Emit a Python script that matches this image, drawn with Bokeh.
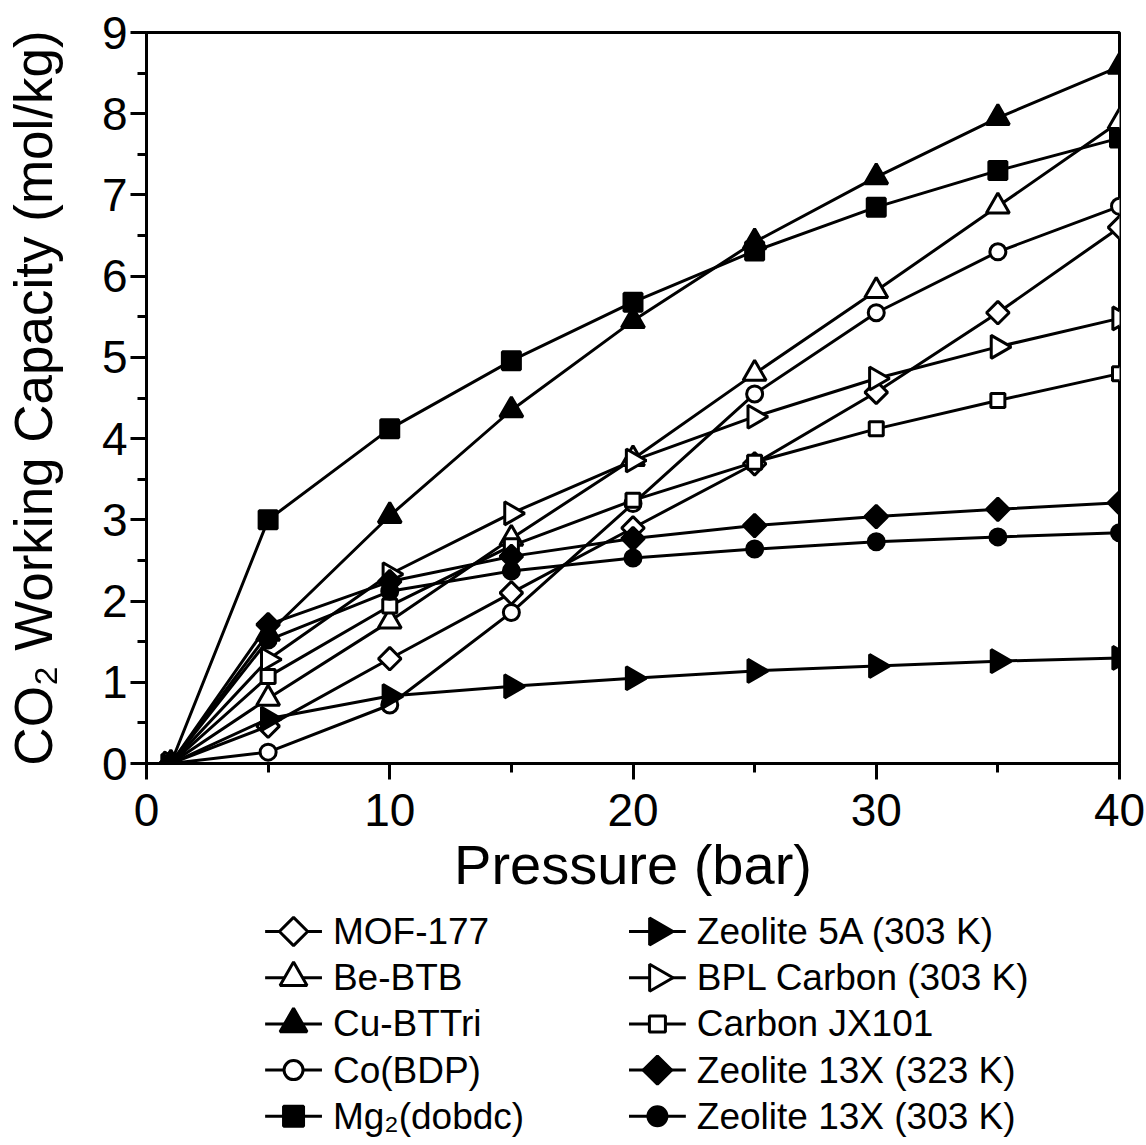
import math
from bokeh.plotting import figure
from bokeh.layouts import column
from bokeh.models import SingleIntervalTicker, Range1d
from bokeh.core.properties import value
from bokeh.embed import file_html
from bokeh.resources import INLINE

# ---- data ----
pressure = [1, 5, 10, 15, 20, 25, 30, 35, 40]

mof_177 = [0, 0.46, 1.29, 2.10, 2.90, 3.69, 4.57, 5.55, 6.60]
be_btb = [0, 0.80, 1.75, 2.77, 3.75, 4.80, 5.82, 6.86, 7.90]
cu_bttri = [0, 1.60, 3.05, 4.35, 5.45, 6.42, 7.22, 7.95, 8.58]
co_bdp = [0, 0.14, 0.72, 1.86, 3.20, 4.55, 5.55, 6.30, 6.86]
mg2_dobdc = [0, 3.00, 4.12, 4.96, 5.68, 6.31, 6.85, 7.30, 7.70]
zeolite_5a = [0, 0.55, 0.83, 0.95, 1.05, 1.14, 1.20, 1.26, 1.30]
bpl_carbon = [0, 1.28, 2.33, 3.08, 3.73, 4.27, 4.74, 5.13, 5.48]
carbon_jx101 = [0, 1.07, 1.94, 2.68, 3.24, 3.71, 4.12, 4.47, 4.80]
zeolite_13x_323 = [0, 1.71, 2.24, 2.55, 2.77, 2.93, 3.04, 3.13, 3.21]
zeolite_13x_303 = [0, 1.52, 2.12, 2.37, 2.53, 2.64, 2.73, 2.79, 2.84]

labels = ["MOF-177", "Be-BTB", "Cu-BTTri", "Co(BDP)", "Mg\u2082(dobdc)",
          "Zeolite 5A (303 K)", "BPL Carbon (303 K)", "Carbon JX101",
          "Zeolite 13X (323 K)", "Zeolite 13X (303 K)"]

x_label = "Pressure (bar)"
y_label = "CO\u2082 Working Capacity (mol/kg)"

# ---- marker styles: (marker, filled, plot size, legend size, angle) ----
styles = [
    ("square", False, 16, 20, math.pi / 4),
    ("triangle", False, 23, 27, 0),
    ("triangle", True, 23, 27, 0),
    ("circle", False, 16, 19, 0),
    ("square", True, 18, 20, 0),
    ("triangle", True, 23, 27, -math.pi / 2),
    ("triangle", False, 23, 27, -math.pi / 2),
    ("square", False, 14, 16, 0),
    ("square", True, 16, 20, math.pi / 4),
    ("circle", True, 16, 19, 0),
]
data = [mof_177, be_btb, cu_bttri, co_bdp, mg2_dobdc, zeolite_5a,
        bpl_carbon, carbon_jx101, zeolite_13x_323, zeolite_13x_303]

FONT = "Liberation Sans"
W = 1146
H_MAIN = 912
H_LEG = 232
FL, FR = 143, 1119   # frame left / right in page pixels

p = figure(width=W, height=H_MAIN, output_backend="svg", toolbar_location=None,
           x_range=Range1d(0, 40), y_range=Range1d(0, 9),
           min_border_left=FL, min_border_right=W - FR,
           min_border_top=32, min_border_bottom=H_MAIN - 763)

p.grid.visible = False
p.outline_line_color = "black"
p.outline_line_width = 3
p.background_fill_color = "white"
p.border_fill_color = "white"

for ax in (p.xaxis[0], p.yaxis[0]):
    ax.axis_line_width = 3
    ax.major_tick_line_width = 3
    ax.minor_tick_line_width = 3
    ax.major_tick_in = 0
    ax.minor_tick_in = 0
    ax.major_tick_out = 16
    ax.minor_tick_out = 9
    ax.major_label_text_font = FONT
    ax.major_label_text_font_size = "46px"
    ax.major_label_text_color = "black"
    ax.axis_label_text_font = FONT
    ax.axis_label_text_font_style = "normal"
    ax.axis_label_text_color = "black"

p.xaxis.ticker = SingleIntervalTicker(interval=10, num_minor_ticks=2)
p.yaxis.ticker = SingleIntervalTicker(interval=1, num_minor_ticks=2)
p.xaxis.axis_label = x_label
p.yaxis.axis_label = y_label
p.xaxis.axis_label_text_font_size = "56px"
p.yaxis.axis_label_text_font_size = "53px"
p.xaxis.major_label_standoff = 14
p.yaxis.major_label_standoff = 3
p.xaxis.axis_label_standoff = 4
p.yaxis.axis_label_standoff = 36

for ys in data:
    p.line(pressure, ys, line_color="black", line_width=3)
for ys, (mk, filled, sz, lsz, ang) in zip(data, styles):
    p.scatter(pressure, ys, marker=mk, size=sz, angle=ang,
              line_color="black", line_width=3,
              fill_color="black" if filled else "white")

# ---- legend (two columns of five entries, drawn below the plot) ----
lf = figure(width=W, height=H_LEG, output_backend="svg", toolbar_location=None,
            x_range=Range1d(FL, FR), y_range=Range1d(H_MAIN + H_LEG, H_MAIN),
            min_border_left=FL, min_border_right=W - FR,
            min_border_top=0, min_border_bottom=0)
lf.axis.visible = False
lf.grid.visible = False
lf.outline_line_color = None
lf.background_fill_color = "white"
lf.border_fill_color = "white"

col_left = [262, 627]
row_first = 931
row_pitch = 46.2
seg_len = 57
for i, (lab, (mk, filled, sz, lsz, ang)) in enumerate(zip(labels, styles)):
    c, r = divmod(i, 5)
    x0 = col_left[c]
    yc = row_first + r * row_pitch
    lf.segment(x0=[x0], y0=[yc], x1=[x0 + seg_len], y1=[yc],
               line_color="black", line_width=3)
    lf.scatter([x0 + seg_len / 2], [yc], marker=mk, size=lsz, angle=ang,
               line_color="black", line_width=3,
               fill_color="black" if filled else "white")
    lf.text([x0 + seg_len + 11], [yc], text=[lab],
            text_font=value(FONT), text_font_size="37px",
            text_color="black", text_baseline="middle", text_align="left")

layout = column(p, lf, spacing=0)
open("out.html", "w").write(file_html(layout, INLINE))
